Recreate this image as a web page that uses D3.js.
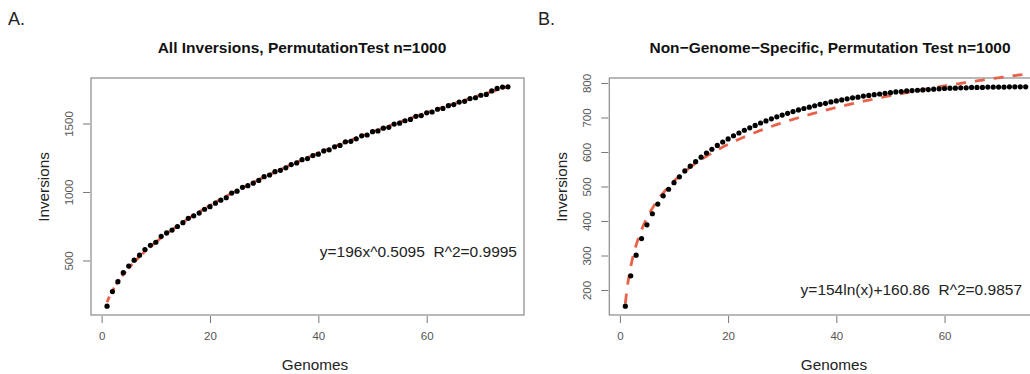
<!DOCTYPE html>
<html>
<head>
<meta charset="utf-8">
<script src="https://cdn.jsdelivr.net/npm/d3@7"></script>
<style>
  body { margin: 0; background: #fff; }
  svg { display: block; font-family: "Liberation Sans", Arial, Helvetica, sans-serif; }
  text { white-space: pre; }
</style>
</head>
<body>
<svg id="chart" width="1030" height="374"></svg>
<script>
// genomes 1..75
var genomes = d3.range(1, 76);

// panel A: all inversions
var allInv = [166, 273, 345, 411, 459, 502, 539, 580, 611, 633, 676, 701, 722, 748, 776,
  808, 826, 846, 874, 893, 918, 940, 958, 992, 1006, 1034, 1046, 1064, 1084, 1112,
  1124, 1148, 1158, 1176, 1200, 1212, 1236, 1244, 1266, 1276, 1300, 1308, 1330, 1340, 1366,
  1370, 1388, 1410, 1416, 1440, 1446, 1466, 1472, 1496, 1502, 1520, 1530, 1552, 1558, 1578,
  1584, 1604, 1610, 1630, 1638, 1656, 1662, 1682, 1688, 1706, 1712, 1738, 1756, 1766, 1768];

// panel B: non-genome-specific
var nonSpec = [153, 241, 301, 349, 389, 421, 449, 473, 492, 511, 528, 545, 559, 572, 585,
  597, 608, 619, 629, 638, 647, 655, 663, 670, 677, 684, 690, 696, 702, 707,
  712, 717, 722, 726, 730, 734, 738, 741, 745, 748, 751, 754, 757, 759, 762,
  764, 766, 768, 770, 772, 774, 775, 777, 778, 779, 780, 781, 782, 783, 784,
  785, 785, 786, 786, 787, 787, 787, 788, 788, 788, 788, 789, 789, 789, 789];

// fitted models printed on the chart
var powerFit = [196, 0.5095];     // y = a x^b
var logFit = [154, 160.86];       // y = a ln(x) + b

var xTicks = [0, 20, 40, 60];
var yTicksA = [500, 1000, 1500];
var yTicksB = [200, 300, 400, 500, 600, 700, 800];

var red = "#e8624a";
var svg = d3.select("#chart");

function rExtend(lo, hi) {
  var d = (hi - lo) * 0.04;
  return [lo - d, hi + d];
}

function panel(opt) {
  var x = d3.scaleLinear().domain(rExtend(1, 75)).range([opt.left, opt.right]);
  var y = d3.scaleLinear().domain(rExtend(d3.min(opt.values), d3.max(opt.values))).range([315, 78]);
  var g = svg.append("g");

  g.append("rect")
    .attr("x", opt.left).attr("y", 78)
    .attr("width", opt.right - opt.left).attr("height", 237)
    .attr("fill", "none").attr("stroke", "#8a8a8a").attr("stroke-width", 1.2);

  // x axis
  var xa = g.append("g").attr("transform", "translate(0,316)")
    .call(d3.axisBottom(x).tickValues(xTicks).tickSize(7).tickPadding(9).tickFormat(d3.format("d")));
  xa.select(".domain").remove();
  xa.selectAll("line").attr("stroke", "#777");
  xa.selectAll("text").attr("fill", "#555").style("font-size", "11.5px");

  // y axis
  var ya = g.append("g").attr("transform", "translate(" + (opt.left - 1) + ",0)")
    .call(d3.axisLeft(y).tickValues(opt.yTicks).tickSize(7).tickFormat(d3.format("d")));
  ya.select(".domain").remove();
  ya.selectAll("line").attr("stroke", "#777");
  ya.selectAll("text")
    .attr("fill", "#555").style("font-size", "11.5px")
    .attr("x", null).attr("dy", null)
    .attr("text-anchor", "middle")
    .attr("transform", "translate(-17,0) rotate(-90)");

  // fit line
  var fx = d3.range(1, 75.01, 0.25);
  g.append("path")
    .datum(fx)
    .attr("d", d3.line().x(function(d) { return x(d); }).y(function(d) { return y(opt.fit(d)); }))
    .attr("fill", "none").attr("stroke", red)
    .attr("stroke-width", 2.8).attr("stroke-dasharray", opt.dash);

  // points
  g.selectAll("circle")
    .data(opt.values)
    .enter().append("circle")
    .attr("cx", function(d, i) { return x(genomes[i]); })
    .attr("cy", function(d) { return y(d); })
    .attr("r", 2.6)
    .attr("fill", "#000");

  // labels
  g.append("text").attr("x", opt.titleX).attr("y", 53)
    .attr("text-anchor", "middle").style("font-weight", "bold").style("font-size", "15.5px")
    .attr("fill", "#111")
    .text(opt.title);
  g.append("text").attr("x", opt.genX).attr("y", 370)
    .attr("text-anchor", "middle").style("font-size", "15.3px").attr("fill", "#222")
    .text("Genomes");
  g.append("text").attr("transform", "translate(" + (opt.left - 42) + ",187) rotate(-90)")
    .attr("text-anchor", "middle").style("font-size", "15.3px").attr("fill", "#222")
    .text("Inversions");
  g.append("text").attr("x", opt.eqX).attr("y", opt.eqY)
    .attr("text-anchor", "end").style("font-size", "15.5px").attr("fill", "#222")
    .text(opt.eq);
  g.append("text").attr("x", opt.letterX).attr("y", 25)
    .style("font-size", "18px").attr("fill", "#222")
    .text(opt.letter);
}

panel({
  left: 91, right: 524, values: allInv, yTicks: yTicksA,
  fit: function(t) { return powerFit[0] * Math.pow(t, powerFit[1]); },
  dash: "6,4",
  title: "All Inversions, PermutationTest n=1000", titleX: 302,
  genX: 315, eq: "y=196x^0.5095  R^2=0.9995", eqX: 517, eqY: 257,
  letter: "A.", letterX: 8
});

panel({
  left: 609.3, right: 1041.7, values: nonSpec, yTicks: yTicksB,
  fit: function(t) { return logFit[0] * Math.log(t) + logFit[1]; },
  dash: "10,9",
  title: "Non\u2212Genome\u2212Specific, Permutation Test n=1000", titleX: 830,
  genX: 834, eq: "y=154ln(x)+160.86  R^2=0.9857", eqX: 1022, eqY: 295,
  letter: "B.", letterX: 538
});
</script>
</body>
</html>
